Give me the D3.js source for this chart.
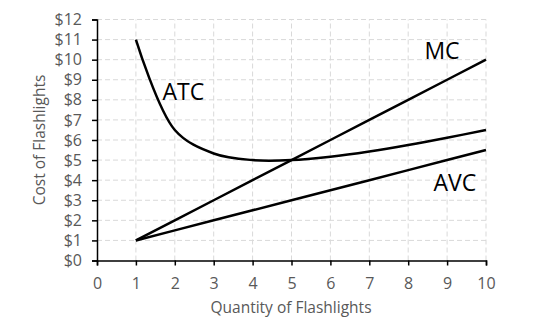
<!DOCTYPE html>
<html><head><meta charset="utf-8">
<script src="https://cdn.jsdelivr.net/npm/d3@7"></script>
<style>body{margin:0;background:#fff}svg{display:block}text{font-family:"Open Sans",sans-serif}</style>
</head><body><svg id="c" width="560" height="336"></svg>
<script>
const quantities = [1,2,3,4,5,6,7,8,9,10];
const mcValues  = [1,2,3,4,5,6,7,8,9,10];
const avcValues = [1,1.5,2,2.5,3,3.5,4,4.5,5,5.5];
const atcValues = [11,6.5,5.33,5,5,5.17,5.43,5.75,6.11,6.5];
const xTicks = [0,1,2,3,4,5,6,7,8,9,10];
const yTicks = [0,1,2,3,4,5,6,7,8,9,10,11,12];
const curveLabels = [
  {name:"ATC", q:2.22, v:7.99},
  {name:"MC", q:8.87, v:10.03},
  {name:"AVC", q:9.2, v:3.46}
];

const svg = d3.select("#c");
const x = d3.scaleLinear().domain([0,10]).range([97,486]);
const y = d3.scaleLinear().domain([0,12]).range([260.5,19.5]);

// grid
svg.append("g").selectAll("line").data(yTicks.filter(d=>d>0)).join("line")
  .attr("x1",x(0)).attr("x2",x(10)).attr("y1",d=>y(d)).attr("y2",d=>y(d))
  .attr("stroke","#d9d9d9").attr("stroke-width",1).attr("stroke-dasharray","5,3");
svg.append("g").selectAll("line").data(xTicks.filter(d=>d>0)).join("line")
  .attr("y1",y(0)).attr("y2",y(12)).attr("x1",d=>x(d)).attr("x2",d=>x(d))
  .attr("stroke","#d9d9d9").attr("stroke-width",1).attr("stroke-dasharray","5,3");

// axes
const xa = svg.append("g").attr("transform",`translate(0,${y(0)})`)
  .call(d3.axisBottom(x).tickValues(xTicks).tickSize(5).tickPadding(12));
const ya = svg.append("g").attr("transform",`translate(${x(0)},0)`)
  .call(d3.axisLeft(y).tickValues(yTicks).tickFormat(d=>"$"+d).tickSize(5).tickPadding(10));
[xa,ya].forEach(a=>{
  a.attr("font-size",null).attr("font-family",null);
  a.select(".domain").attr("stroke","#000").attr("stroke-width",1.5);
  a.selectAll(".tick line").attr("stroke","#000").attr("stroke-width",1.5);
  a.selectAll(".tick text").attr("fill","#595959").style("font-size","16px").style("font-family","Open Sans");
});

// lines
const line = d3.line().x((d,i)=>x(quantities[i])).y(d=>y(d));
const smooth = d3.line().x((d,i)=>x(quantities[i])).y(d=>y(d)).curve(d3.curveCatmullRom.alpha(0.5));
[[mcValues,line],[avcValues,line],[atcValues,smooth]].forEach(([vals,gen])=>{
  svg.append("path").attr("d",gen(vals)).attr("fill","none")
    .attr("stroke","#000").attr("stroke-width",2.5);
});

// curve labels
svg.selectAll("text.lab").data(curveLabels).join("text").attr("class","lab")
  .attr("x",d=>x(d.q)).attr("y",d=>y(d.v)).attr("text-anchor","middle")
  .attr("fill","#000").style("font-size","23px").text(d=>d.name);

// axis titles
svg.append("text").attr("x",291).attr("y",313).attr("text-anchor","middle")
  .attr("fill","#595959").style("font-size","15.5px").text("Quantity of Flashlights");
svg.append("text").attr("transform","translate(45,140) rotate(-90)").attr("text-anchor","middle")
  .attr("fill","#595959").style("font-size","15.5px").text("Cost of Flashlights");
</script></body></html>
